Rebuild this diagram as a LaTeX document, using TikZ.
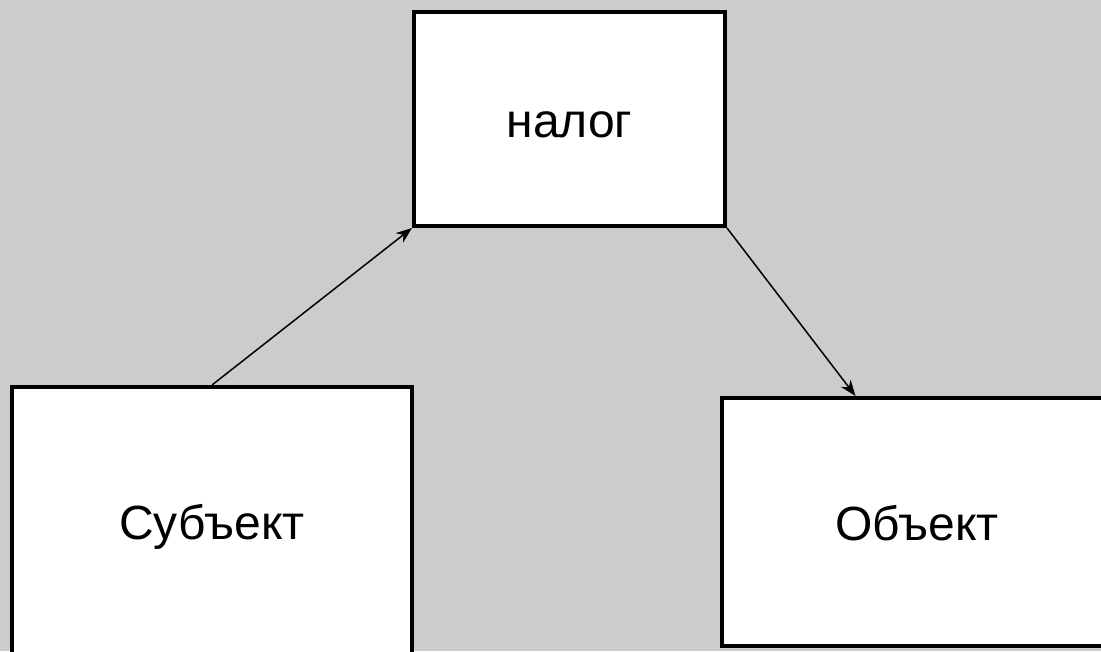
\documentclass[tikz,border=0pt]{standalone}
\usepackage{fontspec}
\setmainfont{Liberation Sans}
\usetikzlibrary{arrows.meta}
\definecolor{bggrey}{HTML}{CCCCCC}
\begin{document}
\begin{tikzpicture}[x=1pt,y=-1pt,
  box/.style={draw, fill=white, line width=4pt, inner sep=0pt, text height=36pt, text depth=0pt, font=\fontsize{48}{58}\selectfont},
  link/.style={-{Stealth[length=16pt,width=12pt,inset=5pt]}, line width=1.5pt}]
\fill[bggrey] (0,0) rectangle (1101,651);
\useasboundingbox (0,0) rectangle (1101,651);
\clip (0,0) rectangle (1101,651);

\node[box, minimum width=311pt, minimum height=214pt] (nalog) at (569.5,119) {налог};
\node[box, minimum width=400pt, minimum height=268pt] (subj) at (212,521) {Субъект};
\node[box, minimum width=390pt, minimum height=248pt] (obj) at (917,522) {Объект};

\draw[link] (subj.north) to (nalog.south west);
\draw[link] (nalog.south east) to (obj.116);
\end{tikzpicture}
\end{document}
